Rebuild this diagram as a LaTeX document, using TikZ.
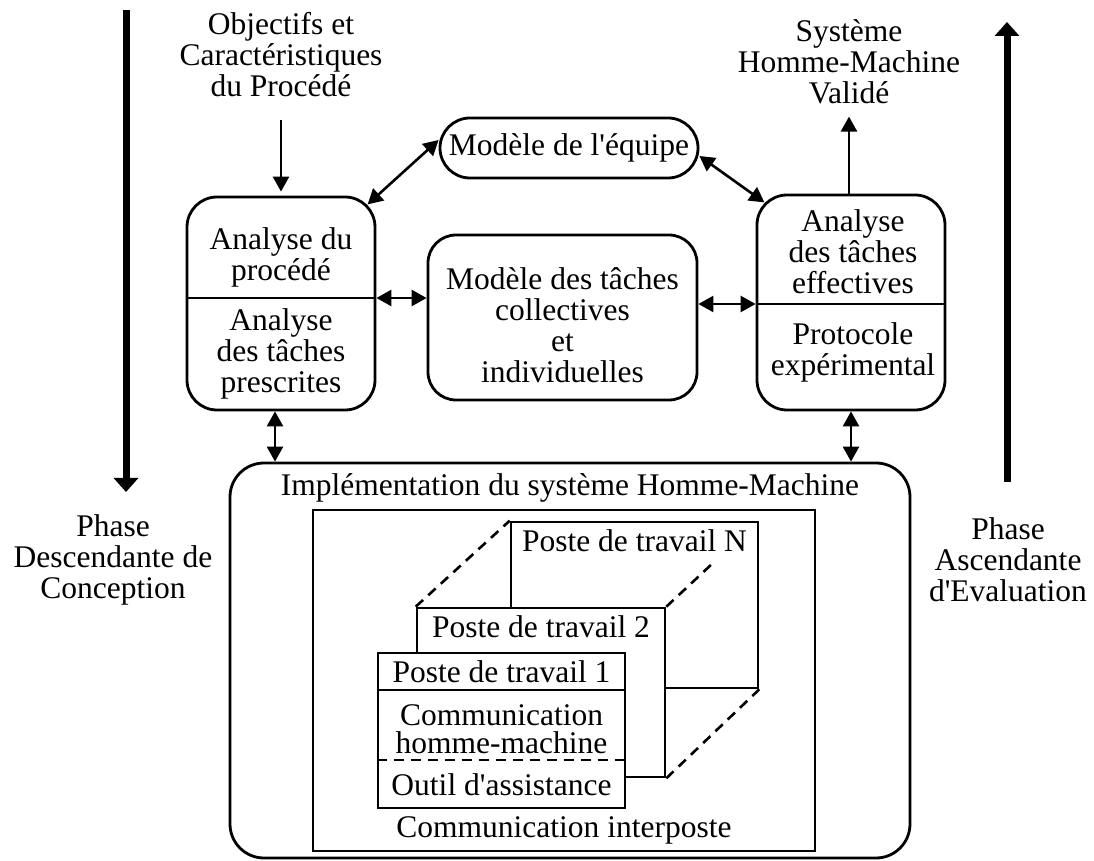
\documentclass[tikz,border=0pt]{standalone}
\usepackage{fontspec}
\setmainfont{Liberation Serif}
\usetikzlibrary{arrows.meta,positioning}
\tikzset{
  txt/.style={align=center, inner sep=0pt, font=\fontsize{15.75}{15.5}\selectfont},
  boite/.style={draw, line width=1.4pt, rounded corners=15pt, inner sep=0pt, txt},
  cadre/.style={draw, line width=1.3pt, inner sep=0pt},
  poste/.style={draw, line width=1.3pt, fill=white, inner sep=0pt},
  trait/.style={line width=1.4pt},
  tiret/.style={line width=1.3pt, dash pattern=on 5pt off 3.5pt},
  fl/.style={line width=1.3pt, -{Triangle[length=7.5pt,width=8pt]}},
  dfl/.style={line width=1.3pt, {Triangle[length=7.5pt,width=8pt]}-{Triangle[length=7.5pt,width=8pt]}},
  phase/.style={line width=3.5pt, -{Triangle[length=7pt,width=12pt]}},
}
\begin{document}
\begin{tikzpicture}[x=0.5pt,y=-0.5pt]
\useasboundingbox (0,0) rectangle (1094,861);

% phases
\coordinate (debutG) at (126,10);
\coordinate (finG) at (126,492);
\coordinate (debutD) at (1007,482);
\coordinate (finD) at (1007,22);
\draw[phase] (debutG) -- (finG);
\draw[phase] (debutD) -- (finD);
\node[txt] (phaseG) at (113,560) {Phase\\Descendante de\\Conception};
\node[txt] (phaseD) at (1008,560) {Phase\\Ascendante\\d\textquotesingle Evaluation};

% entree et sortie
\node[txt] (objectifs) at (281,55) {Objectifs et\\Caractéristiques\\du Procédé};
\node[txt] (systeme) at (849,62) {Système\\Homme-Machine\\Validé};

% boites du haut
\node[boite, minimum width=129pt, minimum height=30pt] (equipe) at (569,148) {Modèle de l\textquotesingle équipe};
\node[boite, minimum width=94pt, minimum height=106.5pt] (analyseG) at (281,303.5) {};
\node[boite, rounded corners=14pt, minimum width=134.5pt, minimum height=82.5pt] (centre) at (562.5,317.5) {};
\node[boite, minimum width=94pt, minimum height=107.5pt] (analyseD) at (851,302.5) {};
\coordinate (sepG) at (281,298);
\coordinate (sepD) at (851,304);
\draw[trait] (analyseG.west |- sepG) -- (analyseG.east |- sepG);
\draw[trait] (analyseD.west |- sepD) -- (analyseD.east |- sepD);
\node[txt] (procede) at (281,257) {Analyse du\\procédé};
\node[txt] (prescrites) at (281,354) {Analyse\\des tâches\\prescrites};
\node[txt] (taches) at (562.5,325) {Modèle des tâches\\collectives\\et\\individuelles};
\node[txt] (effectives) at (853,252) {Analyse\\des tâches\\effectives};
\node[txt] (protocole) at (853,352) {Protocole\\expérimental};

% implementation
\node[boite, rounded corners=17pt, minimum width=340pt, minimum height=197.5pt] (impl) at (570,660.5) {};
\node[txt] (titreImpl) at (570,488) {Implémentation du système Homme-Machine};
\node[cadre, minimum width=251pt, minimum height=170.5pt] (postes) at (564,680.5) {};
\node[txt] (interposte) at (564,830) {Communication interposte};

% postes de travail
\node[poste, minimum width=123.5pt, minimum height=83pt] (posteN) at (634.5,605) {};
\node[txt] (titreN) at (634.5,541) {Poste de travail N};
\coordinate (fuiteD) at (713,563);
\node[poste, minimum width=124pt, minimum height=84.5pt] (poste2) at (541,692.5) {};
\draw[tiret] (poste2.north west) -- (posteN.north west);
\draw[tiret] (poste2.north east) -- (fuiteD);
\draw[tiret] (poste2.south east) -- (posteN.south east);
\node[txt] (titre2) at (541,627) {Poste de travail 2};
\node[poste, minimum width=123.5pt, minimum height=77.5pt] (poste1) at (501.5,730.5) {};
\coordinate (sep1) at (501.5,690);
\coordinate (sep2) at (501.5,760);
\draw[trait] (poste1.west |- sep1) -- (poste1.east |- sep1);
\draw[tiret] (poste1.west |- sep2) -- (poste1.east |- sep2);
\node[txt] (titre1) at (501.5,672) {Poste de travail 1};
\node[txt, font=\fontsize{15.75}{14}\selectfont] (chm) at (501.5,729) {Communication\\homme-machine};
\node[txt] (outil) at (501.5,785) {Outil d\textquotesingle assistance};

% liaisons
\draw[fl, shorten <=11pt, shorten >=2pt] (objectifs.south) -- (analyseG.north);
\draw[fl, shorten >=6pt] (analyseD.north -| systeme.south) -- (systeme.south);
\draw[dfl] ([xshift=-4.4pt,yshift=-4.4pt]analyseG.north east) -- ([yshift=4pt]equipe.west);
\draw[dfl] ([yshift=-4pt]equipe.east) -- ([xshift=4.4pt,yshift=-4.4pt]analyseD.north west);
\draw[dfl] (analyseG.east |- sepG) -- (centre.west |- sepG);
\draw[dfl] (centre.east |- sepD) -- (analyseD.west |- sepD);
\draw[dfl] ([xshift=-3pt]analyseG.south) -- ([xshift=-3pt]analyseG.south |- impl.north);
\draw[dfl] (analyseD.south) -- (analyseD.south |- impl.north);
\end{tikzpicture}
\end{document}
